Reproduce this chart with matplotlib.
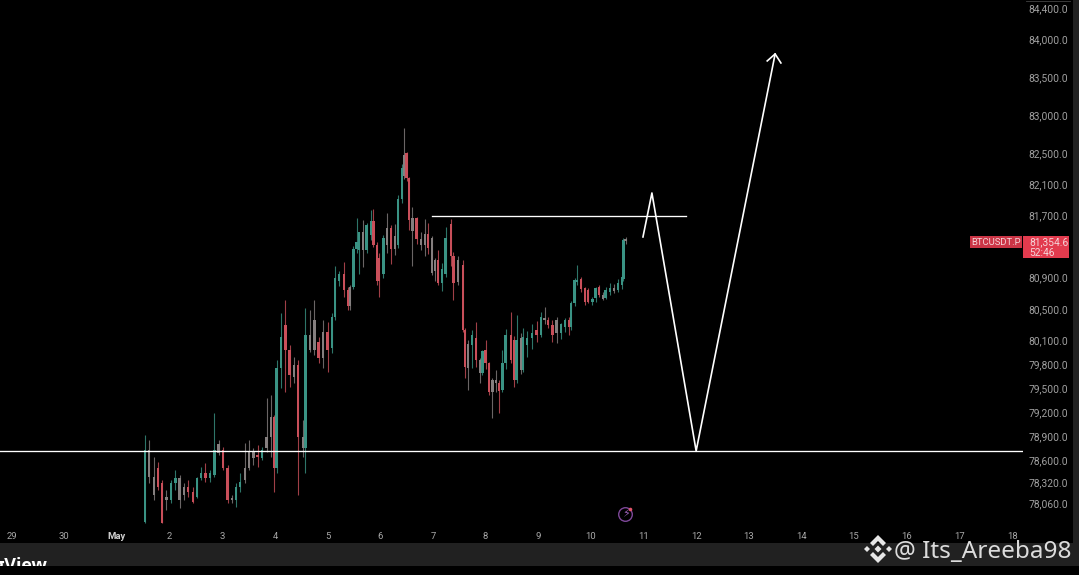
import matplotlib
matplotlib.use("Agg")
import matplotlib.pyplot as plt
from matplotlib.patches import Rectangle, Circle, Polygon

plt.rcParams['font.family'] = ['Roboto', 'DejaVu Sans']

days = [1.53, 1.61, 1.70, 1.78, 1.86, 1.94, 2.03, 2.11, 2.19, 2.27,
        2.35, 2.44, 2.52, 2.60, 2.68, 2.77, 2.85, 2.93, 3.01, 3.10,
        3.18, 3.26, 3.34, 3.43, 3.51, 3.59, 3.67, 3.75, 3.84, 3.92,
        3.98, 4.03, 4.11, 4.20, 4.28, 4.36, 4.44, 4.53, 4.58, 4.67,
        4.75, 4.83, 4.91, 5.00, 5.08, 5.14, 5.22, 5.31, 5.39, 5.43,
        5.49, 5.55, 5.60, 5.67, 5.74, 5.82, 5.87, 5.94, 5.98, 6.06,
        6.13, 6.20, 6.28, 6.34, 6.41, 6.46, 6.50, 6.55, 6.61, 6.69,
        6.77, 6.85, 6.91, 6.98, 7.04, 7.10, 7.17, 7.24, 7.34, 7.39,
        7.48, 7.57, 7.61, 7.67, 7.74, 7.82, 7.89, 7.94, 8.00, 8.07,
        8.13, 8.20, 8.26, 8.32, 8.38, 8.48, 8.54, 8.59, 8.67, 8.71,
        8.79, 8.88, 8.97, 9.05, 9.12, 9.19, 9.27, 9.35, 9.43, 9.51,
        9.59, 9.62, 9.69, 9.74, 9.81, 9.89, 9.95, 10.03, 10.09, 10.16,
        10.23, 10.28, 10.36, 10.44, 10.51, 10.59, 10.62, 10.66]

opens = [77824, 78742, 78400, 78507, 78315, 78145, 78102, 78315, 78379, 78166,
         78273, 78208, 78145, 78379, 78443, 78379, 78422, 78699, 78742, 78507,
         78123, 78102, 78273, 78358, 78507, 78721, 78678, 78635, 78763, 78913,
         79169, 78507, 79787, 80342, 80022, 79830, 79830, 78913, 78763, 80022,
         80406, 80129, 79915, 80257, 80050, 80450, 80900, 80990, 80790, 80590,
         80830, 81310, 81300, 81530, 81300, 81500, 81670, 81370, 81200, 80990,
         81360, 81590, 81320, 81370, 81950, 82250, 82540, 82220, 81540, 81710,
         81440, 81360, 81510, 81450, 81180, 81170, 80880, 81000, 81640, 81230,
         80890, 81110, 80278, 79790, 80085, 80171, 79894, 79723, 80022, 79851,
         79489, 79638, 79595, 79510, 79850, 80214, 80150, 79640, 80170, 79770,
         80085, 80170, 80278, 80214, 80430, 80406, 80342, 80406, 80235, 80320,
         80400, 80320, 80620, 80890, 80935, 80810, 80790, 80640, 80690, 80830,
         80720, 80690, 80770, 80820, 80790, 80860, 80930, 81440]

highs = [78934, 78870, 78657, 78593, 78358, 78230, 78358, 78486, 78422, 78315,
         78358, 78273, 78400, 78529, 78571, 78486, 79211, 78870, 78785, 78550,
         78166, 78315, 78443, 78827, 78870, 78763, 78806, 78785, 79403, 79446,
         79190, 79894, 80491, 80662, 80086, 79937, 79894, 79126, 80555, 80534,
         80662, 80193, 80406, 80385, 80500, 81100, 81030, 81150, 80830, 80850,
         81350, 81710, 81530, 81680, 81650, 81810, 81830, 81400, 81260, 81500,
         81770, 81620, 81640, 82000, 82400, 82860, 82560, 82240, 81850, 81730,
         81530, 81700, 81650, 81480, 81200, 81300, 81130, 81600, 81700, 81280,
         81230, 81174, 80300, 80150, 80278, 80385, 79920, 80020, 80150, 79870,
         79660, 79766, 79640, 80022, 80290, 80512, 80200, 80470, 80240, 80300,
         80260, 80350, 80390, 80510, 80577, 80449, 80400, 80440, 80370, 80430,
         80440, 80650, 80950, 81110, 80960, 80830, 80820, 80700, 80830, 80860,
         80760, 80830, 80880, 80870, 80930, 81010, 81450, 81473]

lows = [77803, 78315, 78102, 78230, 77803, 77974, 78059, 78230, 77995, 78102,
        78145, 78059, 78123, 78358, 78336, 78336, 78400, 78678, 78486, 78059,
        78059, 78017, 78208, 78315, 78486, 78550, 78529, 78614, 78721, 78657,
        78208, 78443, 79531, 79489, 79553, 79595, 78166, 78657, 78443, 80000,
        79958, 79851, 79787, 79745, 79990, 80400, 80840, 80700, 80530, 80530,
        80800, 81270, 80990, 81090, 81260, 81430, 81340, 80860, 80700, 80950,
        81270, 81120, 81240, 81330, 81900, 82210, 82190, 81560, 81100, 81380,
        81300, 81230, 81250, 80980, 80900, 80860, 80780, 80960, 81100, 80660,
        80850, 80250, 79660, 79510, 79790, 79800, 79595, 79700, 79780, 79440,
        79147, 79480, 79211, 79490, 79780, 79850, 79550, 79600, 79720, 79740,
        79937, 80030, 80130, 80190, 80350, 80310, 80130, 80110, 80160, 80250,
        80220, 80280, 80580, 80850, 80770, 80600, 80620, 80600, 80640, 80700,
        80660, 80670, 80720, 80750, 80760, 80800, 80900, 81380]

closes = [78742, 78400, 78166, 78273, 77812, 78102, 78315, 78379, 78102, 78273,
          78208, 78081, 78379, 78443, 78379, 78443, 78742, 78819, 78507, 78102,
          78102, 78273, 78336, 78507, 78721, 78635, 78657, 78742, 78913, 79169,
          78507, 79787, 80193, 80022, 79702, 79681, 78913, 78763, 80214, 80214,
          80022, 79915, 80257, 80022, 80450, 80940, 80990, 80790, 80580, 80830,
          81310, 81400, 81530, 81300, 81620, 81670, 81370, 80910, 80900, 81460,
          81590, 81320, 81480, 81960, 82350, 82520, 82220, 81680, 81710, 81440,
          81360, 81510, 81330, 81010, 81030, 80880, 81060, 81450, 81230, 80880,
          81170, 80278, 79809, 80100, 80214, 79894, 79723, 80010, 79851, 79489,
          79638, 79595, 79500, 79850, 80210, 79900, 79638, 80150, 79766, 80190,
          80170, 80240, 80214, 80449, 80400, 80342, 80210, 80235, 80350, 80400,
          80320, 80620, 80920, 80920, 80800, 80640, 80640, 80680, 80810, 80720,
          80680, 80790, 80810, 80780, 80880, 80960, 81430, 81420]

# candles that read as grey in the blurry screenshot
gray_days = [1.61, 1.70, 1.94, 2.19, 2.27, 2.93, 3.18, 3.43, 3.51, 3.59, 3.84, 3.92,
             4.36, 4.53, 4.67, 4.75, 4.91, 5.43, 5.67, 6.13, 6.28, 6.46, 6.61, 6.77,
             6.85, 6.98, 7.04, 7.48, 7.67, 7.89, 8.13, 8.20, 8.67, 9.12, 9.35, 10.23,
             10.44, 10.66]

# drawn lines on the chart
support_days = [-1.22, 18.2]
support_price = [78730, 78730]
resist_days = [6.98, 11.81]
resist_price = [81738, 81738]
path_days = [10.99, 11.16, 12.0, 13.5]
path_price = [81469, 82032, 78730, 83811]
head_days = [13.35, 13.5, 13.61]
head_price = [83722, 83811, 83696]

date_ticks = [-1, 0, 1, 2, 3, 4, 5, 6, 7, 8, 9, 10, 11, 12, 13, 14, 15, 16, 17, 18]
date_labels = ['29', '30', 'May', '2', '3', '4', '5', '6', '7', '8', '9', '10',
               '11', '12', '13', '14', '15', '16', '17', '18']
price_ticks = [84400, 84003, 83517, 83030, 82544, 82147, 81750, 80957, 80547, 80150,
               79843, 79536, 79229, 78922, 78614, 78333, 78064]
price_labels = ['84,400.0', '84,000.0', '83,500.0', '83,000.0', '82,500.0', '82,100.0',
                '81,700.0', '80,900.0', '80,500.0', '80,100.0', '79,800.0', '79,500.0',
                '79,200.0', '78,900.0', '78,600.0', '78,320.0', '78,060.0']

GREEN = '#3a9384'
RED = '#c94f5a'
GRAY = '#857f7f'
TAG = '#e23b4e'

W, H = 1079, 575
fig = plt.figure(figsize=(W / 100, H / 100), dpi=100, facecolor='black')
ax = fig.add_axes([0, (H - 525) / H, 1023 / W, 525 / H], facecolor='black')

colors = []
for d, o, c in zip(days, opens, closes):
    if d in gray_days:
        colors.append(GRAY)
    elif c >= o:
        colors.append(GREEN)
    else:
        colors.append(RED)

ax.vlines(days, lows, highs, colors=colors, linewidth=0.8, alpha=0.8, zorder=2)
bottoms = [min(o, c) for o, c in zip(opens, closes)]
heights = [max(abs(c - o), 25) for o, c in zip(opens, closes)]
ax.bar(days, heights, bottom=bottoms, width=0.045, color=colors, linewidth=0, zorder=3)

ax.plot(support_days, support_price, color='white', lw=0.95, zorder=4)
ax.plot(resist_days, resist_price, color='white', lw=0.95, zorder=4)
ax.plot(path_days, path_price, color='white', lw=1.2, zorder=4)
ax.plot(head_days, head_price, color='white', lw=1.2, zorder=4)

ax.set_xlim(-1.222, 18.208)
ax.set_ylim(77782, 84502)
ax.set_xticks(date_ticks)
ax.set_xticklabels(date_labels, color='#a8a8a8', fontsize=6.8)
ax.get_xticklabels()[2].set_color('#cfcfcf')
ax.get_xticklabels()[2].set_fontweight('bold')
ax.yaxis.tick_right()
ax.set_yticks(price_ticks)
ax.set_yticklabels(price_labels, color='#a0a0a0', fontsize=7.4)
ax.tick_params(axis='x', length=0, pad=5)
ax.tick_params(axis='y', length=0, pad=4)
for s in ax.spines.values():
    s.set_visible(False)

# screenshot furniture, placed in pixels
top = fig.add_axes([0, 0, 1, 1], facecolor='none')
top.set_xlim(0, W)
top.set_ylim(H, 0)
top.axis('off')

top.add_patch(Rectangle((0, 543), W, 23, color='#212121', lw=0, zorder=1))
top.add_patch(Rectangle((1073, 0), 6, 566, color='#212121', lw=0, zorder=1))
top.plot([1026, 1070], [1, 1], color='#444444', lw=0.6)
top.text(47, 571, 'TradingView', color='white', fontsize=13, fontweight='bold',
         ha='right', va='baseline', zorder=2, family='Open Sans')
top.add_patch(Rectangle((0, 566), W, 9, color='black', lw=0, zorder=3))

# price tag
top.add_patch(Rectangle((970, 236), 52, 12, color=TAG, lw=0, alpha=0.9, zorder=4))
top.add_patch(Rectangle((1023, 236), 46, 22, color=TAG, lw=0, zorder=4))
top.text(996, 242.5, 'BTCUSDT.P', color='#f4d4d8', fontsize=6.8, ha='center', va='center', zorder=5)
top.text(1029, 242.5, '81,354.6', color='#f4d4d8', fontsize=7.4, ha='left', va='center', zorder=5)
top.text(1029, 252.5, '52:46', color='#f4d4d8', fontsize=7.4, ha='left', va='center', zorder=5)

# lightning badge
top.add_patch(Circle((625.5, 514.5), 6.8, fill=False, ec='#7d4798', lw=1.0, zorder=4))
top.add_patch(Circle((630.5, 509.5), 1.8, color='#e2556a', lw=0, zorder=5))
top.text(625.5, 514.5, '\u26a1', color='#9a62b8', fontsize=8, ha='center', va='center',
         family='DejaVu Sans', zorder=5)

# watermark
cx, cy = 878, 549
logo = '#e6e6e6'
top.add_patch(Polygon([(cx, cy - 14), (cx + 8, cy - 6), (cx + 5, cy - 3), (cx, cy - 8),
                       (cx - 5, cy - 3), (cx - 8, cy - 6)], color=logo, lw=0, zorder=6))
top.add_patch(Polygon([(cx, cy + 14), (cx + 8, cy + 6), (cx + 5, cy + 3), (cx, cy + 8),
                       (cx - 5, cy + 3), (cx - 8, cy + 6)], color=logo, lw=0, zorder=6))
for dx, r in [(0, 3.5), (-11, 3), (11, 3)]:
    top.add_patch(Polygon([(cx + dx, cy - r), (cx + dx + r, cy), (cx + dx, cy + r), (cx + dx - r, cy)],
                          color=logo, lw=0, zorder=6))
top.text(1071, 558, '@ Its_Areeba98', color='#dcdcdc', fontsize=17.5, ha='right', va='baseline',
         family='Noto Sans', zorder=6)

fig.savefig('out.png', dpi=100, facecolor='black')
